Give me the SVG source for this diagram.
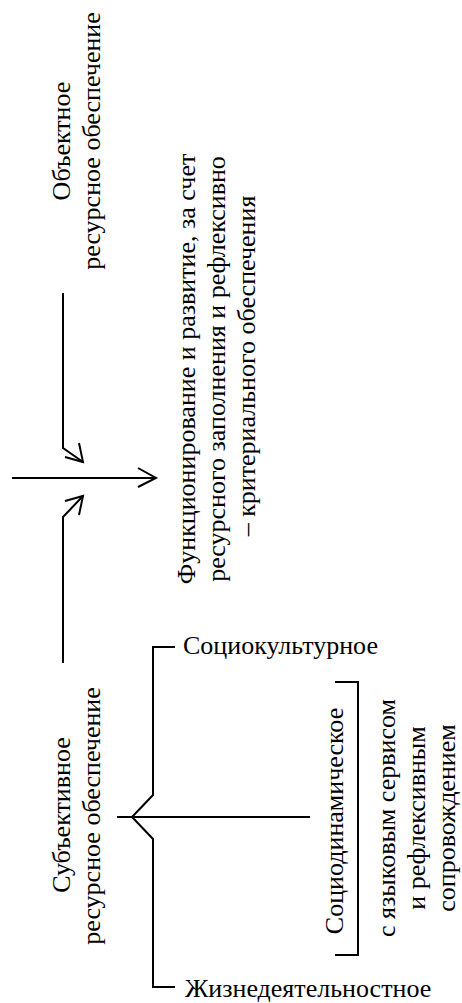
<svg xmlns="http://www.w3.org/2000/svg" width="462" height="1003" viewBox="0 0 462 1003">
<style>
text{font-family:'Liberation Serif','Times New Roman',serif;font-size:26px;fill:#000}
.c{text-anchor:middle}
.ln{fill:none;stroke:#000;stroke-width:2}
</style>
<rect width="462" height="1003" fill="#fff"/>
<g id="obj">
<text class="c" transform="translate(70,141) rotate(-90)">Объектное</text>
<text class="c" transform="translate(100,141) rotate(-90)">ресурсное обеспечение</text>
</g>
<g id="func">
<text class="c" transform="translate(195,369) rotate(-90)">Функционирование и развитие, за счет</text>
<text class="c" transform="translate(225,369) rotate(-90)">ресурсного заполнения и рефлексивно</text>
<text class="c" transform="translate(255,366) rotate(-90)">– критериального обеспечения</text>
</g>
<g id="subj">
<text class="c" transform="translate(70,815) rotate(-90)">Субъективное</text>
<text class="c" transform="translate(100,816) rotate(-90)">ресурсное обеспечение</text>
</g>
<g id="soccult">
<text x="183" y="654">Социокультурное</text>
</g>
<g id="zhizn">
<text x="185" y="997">Жизнедеятельностное</text>
</g>
<g id="socdin">
<text class="c" transform="translate(343,821) rotate(-90)">Социодинамическое</text>
<path class="ln" d="M335,682 H358 V955 H335"/>
</g>
<g id="lang">
<text class="c" transform="translate(395,818) rotate(-90)">с языковым сервисом</text>
<text class="c" transform="translate(425,818) rotate(-90)">и рефлексивным</text>
<text class="c" transform="translate(455,818) rotate(-90)">сопровождением</text>
</g>
<g id="connectors">
<path class="ln" d="M63,293 V448 L83,462"/>
<path class="ln" d="M65,457 L83,462 L79,443"/>
<path class="ln" d="M63,663 V517 L83,496"/>
<path class="ln" d="M65,501 L83,496 L79,515"/>
<path class="ln" d="M12,478 H156"/>
<path class="ln" d="M138,468 L156,478 L138,487"/>
<path class="ln" d="M117,817 H310"/>
<path class="ln" d="M175,647 H153 V795 L132,817 L153,839 V987 H175"/>
</g>
</svg>
